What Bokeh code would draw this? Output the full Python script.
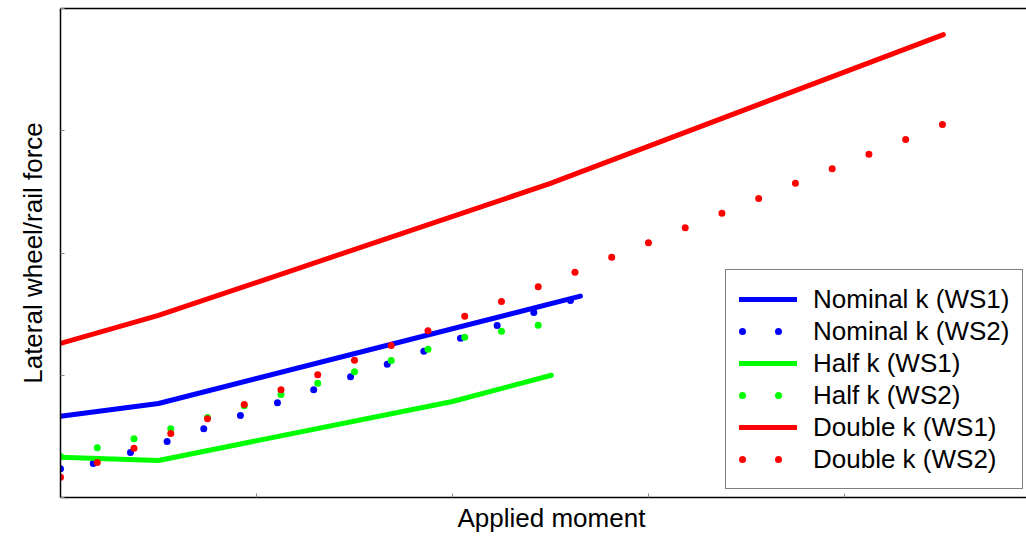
from bokeh.plotting import figure
from bokeh.models import Range1d, FixedTicker, LinearAxis, Legend, LegendItem, Title
from bokeh.embed import file_html
from bokeh.resources import INLINE

# ---- data ----
# WS1 solid lines
nom_ws1_x = [0.0, 0.5, 2.653]
nom_ws1_y = [0.665, 0.769, 1.647]
half_ws1_x = [0.0, 0.5, 2.0, 2.505]
half_ws1_y = [0.330, 0.303, 0.785, 1.000]
dbl_ws1_x = [0.0, 0.5, 2.5, 4.505]
dbl_ws1_y = [1.260, 1.489, 2.569, 3.787]

# WS2 dotted series
nom_ws2_x = [0.0, 0.167, 0.357, 0.544, 0.731, 0.918, 1.107, 1.292, 1.480, 1.667,
             1.854, 2.041, 2.228, 2.415, 2.602]
nom_ws2_y = [0.235, 0.278, 0.368, 0.458, 0.562, 0.671, 0.775, 0.881, 0.987, 1.090,
             1.197, 1.303, 1.407, 1.513, 1.611]
half_ws2_x = [0.0, 0.1875, 0.375, 0.5625, 0.75, 0.9375, 1.125, 1.3125, 1.5, 1.6875,
              1.875, 2.0625, 2.25, 2.4375]
half_ws2_y = [0.335, 0.407, 0.480, 0.562, 0.654, 0.750, 0.843, 0.935, 1.028, 1.121,
              1.213, 1.311, 1.360, 1.409]
dbl_ws2_x = [0.0, 0.1875, 0.375, 0.5625, 0.75, 0.9375, 1.125, 1.3125, 1.5, 1.6875,
             1.875, 2.0625, 2.25, 2.4375, 2.625, 2.8125, 3.0, 3.1875, 3.375, 3.5625,
             3.75, 3.9375, 4.125, 4.3125, 4.5]
dbl_ws2_y = [0.166, 0.286, 0.403, 0.524, 0.644, 0.761, 0.881, 1.004, 1.123, 1.243,
             1.364, 1.483, 1.603, 1.724, 1.843, 1.966, 2.083, 2.206, 2.326, 2.446,
             2.571, 2.689, 2.808, 2.928, 3.051]

x_ticks = [0, 1, 2, 3, 4, 5]
y_ticks = [0, 1, 2, 3, 4]

legend_labels = ["Nominal k (WS1)", "Nominal k (WS2)", "Half k (WS1)",
                 "Half k (WS2)", "Double k (WS1)", "Double k (WS2)"]
x_label = "Applied moment"
y_label = "Lateral wheel/rail force"

BLUE, GREEN, RED = "#0000ff", "#00ff00", "#ff0000"
FONT = "Liberation Sans"

p = figure(width=1026, height=536, output_backend="svg", toolbar_location=None,
           x_range=Range1d(0, 4.929), y_range=Range1d(0, 4),
           min_border_left=60, min_border_right=0, min_border_top=8,
           min_border_bottom=39)
p.grid.visible = False
p.outline_line_color = None
p.background_fill_color = "white"
p.border_fill_color = "white"

for ax in p.xaxis:
    ax.ticker = FixedTicker(ticks=x_ticks)
for ax in p.yaxis:
    ax.ticker = FixedTicker(ticks=y_ticks)
for ax in list(p.xaxis) + list(p.yaxis):
    ax.major_label_text_color = None
    ax.major_label_text_font_size = "2px"
    ax.major_label_standoff = 0
    ax.major_tick_in = 4
    ax.major_tick_out = 0
    ax.major_tick_line_color = "#888888"
    ax.minor_tick_line_color = None
    ax.axis_line_color = "black"
    ax.axis_line_width = 1.5

top = LinearAxis(ticker=FixedTicker(ticks=[]), major_label_text_color=None,
                 major_label_text_font_size="2px",
                 major_label_standoff=0, major_tick_out=0, major_tick_in=0,
                 minor_tick_line_color=None, axis_line_color="black",
                 axis_line_width=1.5)
p.add_layout(top, "above")

# Nominal
p.line(nom_ws1_x, nom_ws1_y, line_color=BLUE, line_width=5, line_cap="round", line_join="round")
p.scatter(nom_ws2_x, nom_ws2_y, size=7, fill_color=BLUE, line_color=None)
# Half
p.line(half_ws1_x, half_ws1_y, line_color=GREEN, line_width=5, line_cap="round", line_join="round")
p.scatter(half_ws2_x, half_ws2_y, size=7, fill_color=GREEN, line_color=None)
# Double
p.line(dbl_ws1_x, dbl_ws1_y, line_color=RED, line_width=5, line_cap="round", line_join="round")
p.scatter(dbl_ws2_x, dbl_ws2_y, size=7, fill_color=RED, line_color=None)

# legend proxies (placed outside the visible ranges, so only the legend shows them)
proxy_x = [-1.0, -0.9]
proxy_y = [-1.0, -1.0]
items = []
for i, col in enumerate([BLUE, GREEN, RED]):
    solid = p.line(proxy_x, proxy_y, line_color=col, line_width=5, line_cap="round")
    dotted = p.line(proxy_x, proxy_y, line_color=col, line_width=7, line_cap="round",
                    line_dash="0 36", line_dash_offset=-3)
    items.append(LegendItem(label=legend_labels[2 * i], renderers=[solid]))
    items.append(LegendItem(label=legend_labels[2 * i + 1], renderers=[dotted]))

legend = Legend(items=items, location=(665, 8))
legend.border_line_color = "black"
legend.border_line_width = 1
legend.background_fill_color = "white"
legend.background_fill_alpha = 1
legend.label_text_font = FONT
legend.label_text_font_size = "26px"
legend.label_text_color = "black"
legend.glyph_width = 58
legend.glyph_height = 32
legend.label_height = 32
legend.label_standoff = 16
legend.spacing = 0
legend.padding = 13
legend.margin = 0
p.add_layout(legend)

xt = Title(text=x_label, align="left", offset=397, text_font=FONT,
           text_font_size="26px", text_font_style="normal", text_color="black",
           standoff=6)
p.add_layout(xt, "below")
yt = Title(text=y_label, align="center", text_font=FONT,
           text_font_size="26px", text_font_style="normal", text_color="black",
           standoff=26)
p.add_layout(yt, "left")

open("out.html", "w").write(file_html(p, INLINE))
